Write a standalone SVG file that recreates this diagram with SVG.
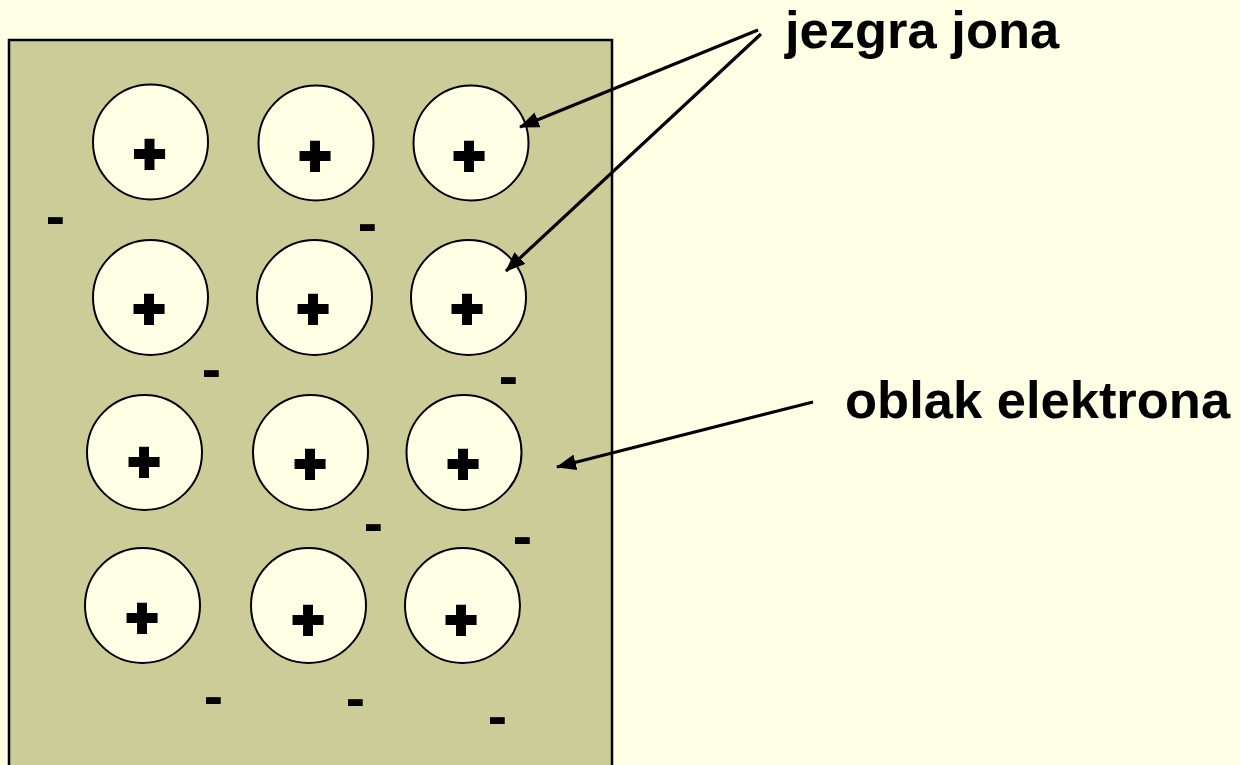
<svg xmlns="http://www.w3.org/2000/svg" width="1240" height="765" viewBox="0 0 1240 765">
<defs>
<style>
.ion{fill:#FFFFE6;stroke:#000;stroke-width:2}
.plus{font-family:"Liberation Sans",Arial,sans-serif;font-weight:bold;font-size:54px;text-anchor:middle;fill:#000;stroke:#000;stroke-width:4}
.minus{font-family:"Liberation Sans",Arial,sans-serif;font-weight:bold;font-size:58px;text-anchor:middle;fill:#000}
.lbl{font-family:"Liberation Sans",Arial,sans-serif;font-weight:bold;font-size:52.5px;fill:#000}
.conn{stroke:#000;stroke-width:3.2;fill:none}
</style>
<marker id="ah" viewBox="0 0 20 16" refX="19" refY="8" markerWidth="20" markerHeight="16" markerUnits="userSpaceOnUse" orient="auto">
<path d="M0,0 L20,8 L0,16 z" fill="#000"/>
</marker>
</defs>
<rect x="0" y="0" width="1240" height="765" fill="#FFFFE6"/>
<g id="metal">
<rect x="9" y="40" width="603" height="760" fill="#CCCC99" stroke="#000" stroke-width="2.5"/>
</g>
<g id="ions">
<g id="ion-1-1"><circle class="ion" cx="150.5" cy="142" r="57.5"/><text class="plus" x="149.5" y="172">+</text></g>
<g id="ion-1-2"><circle class="ion" cx="316" cy="143" r="57.5"/><text class="plus" x="315" y="174">+</text></g>
<g id="ion-1-3"><circle class="ion" cx="471" cy="143" r="57.5"/><text class="plus" x="469" y="174">+</text></g>
<g id="ion-2-1"><circle class="ion" cx="150.5" cy="297.5" r="57.5"/><text class="plus" x="149" y="327">+</text></g>
<g id="ion-2-2"><circle class="ion" cx="314.5" cy="297.5" r="57.5"/><text class="plus" x="313" y="327">+</text></g>
<g id="ion-2-3"><circle class="ion" cx="468.5" cy="297.5" r="57.5"/><text class="plus" x="467" y="327">+</text></g>
<g id="ion-3-1"><circle class="ion" cx="144.5" cy="452.5" r="57.5"/><text class="plus" x="144" y="480">+</text></g>
<g id="ion-3-2"><circle class="ion" cx="310.5" cy="452.5" r="57.5"/><text class="plus" x="310" y="482">+</text></g>
<g id="ion-3-3"><circle class="ion" cx="464" cy="452.5" r="57.5"/><text class="plus" x="463" y="482">+</text></g>
<g id="ion-4-1"><circle class="ion" cx="142.5" cy="605.5" r="57.5"/><text class="plus" x="142" y="636">+</text></g>
<g id="ion-4-2"><circle class="ion" cx="308.5" cy="605.5" r="57.5"/><text class="plus" x="308" y="638">+</text></g>
<g id="ion-4-3"><circle class="ion" cx="462.5" cy="605.5" r="57.5"/><text class="plus" x="461" y="638">+</text></g>
</g>
<g id="electrons">
<text class="minus" x="55.5" y="236">-</text>
<text class="minus" x="367.5" y="243">-</text>
<text class="minus" x="211.5" y="389">-</text>
<text class="minus" x="508.5" y="396">-</text>
<text class="minus" x="373.5" y="543">-</text>
<text class="minus" x="522.5" y="556">-</text>
<text class="minus" x="213.5" y="716">-</text>
<text class="minus" x="355.5" y="718">-</text>
<text class="minus" x="497.5" y="736">-</text>
</g>
<g id="labels">
<text class="lbl" x="785" y="48">jezgra jona</text>
<text class="lbl" x="845" y="418">oblak elektrona</text>
</g>
<g id="connectors">
<line class="conn" x1="758" y1="30" x2="520" y2="127" marker-end="url(#ah)"/>
<line class="conn" x1="761" y1="34" x2="506" y2="271" marker-end="url(#ah)"/>
<line class="conn" x1="813" y1="402" x2="557" y2="467" marker-end="url(#ah)"/>
</g>
</svg>
